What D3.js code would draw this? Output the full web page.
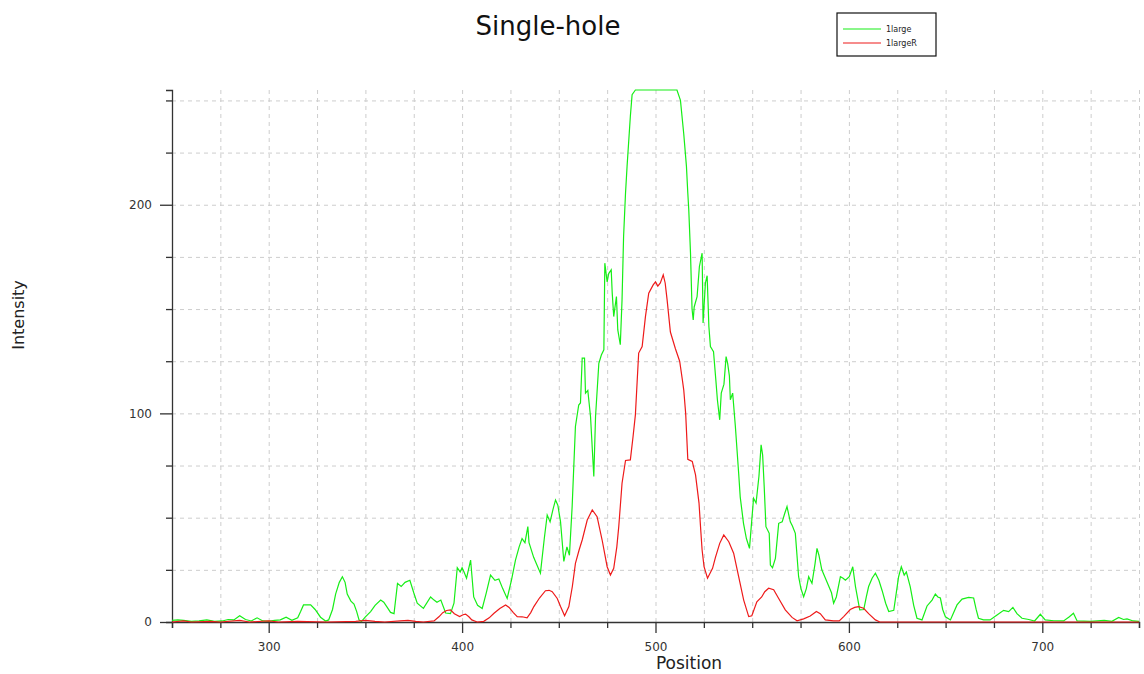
<!doctype html>
<html lang="en">
<head>
    <meta charset="UTF-8">
    <title>Single-hole</title>
    <style>
        body { margin: 0; background: #fff; }
        text { font-family: "DejaVu Sans", sans-serif; }
    </style>
</head>
<body>
<script src="https://cdn.jsdelivr.net/npm/d3@7"></script>
<script>

    // series: [position, intensity]
    const large = [
        [250,0.8],[253,1],[256,0.8],[260,0.3],[264,0.5],[268,1],[272,0.3],[276,0.5],[279,1.2],[282,1],
        [285,3],[288,1.2],[291,0.5],[294,2],[297,0.5],[300,0.3],[303,0.8],[306,1],[309,2.3],[312,0.8],
        [315,2],[316.5,5],[318,8.2],[321.7,8.2],[324,6],[326.8,2.3],[329.4,0.5],[331,1],[333,6],[334.6,13.4],
        [336.5,19],[338.1,21.7],[339.5,19],[340.6,13.4],[342.5,10],[344.1,8.6],[345.5,5],[346.7,1],[348,0.3],[350,2.5],
        [352.7,5],[355,8],[357.9,10.5],[359.5,9.5],[361.3,7],[363,4.6],[364.8,4],[366.6,18.5],[368.5,17],[370.5,19],
        [373,20],[375,14],[376.8,9],[380,6.5],[383.7,12],[385.5,10.5],[387,9.5],[389,10.5],[391.5,4.3],[394,4],
        [395.8,9],[397.5,26],[399,24],[400,26],[401,24],[402.3,21],[404.4,29.7],[406,12],[408,8],[410.4,6.5],
        [412.5,14],[414.7,22.5],[417,20],[419,20.6],[421,16],[423.3,11.3],[425.5,20],[427.6,29.7],[429.5,36],[431,40],
        [432.5,38],[434,45.7],[434.6,38],[437,31],[440.5,23.4],[442.5,40],[444,51.3],[445.5,48],[447,54],[448.3,58.5],
        [449.5,56],[450.9,48],[452.6,29],[454.2,36],[455.5,32],[456.9,55.3],[458.6,93.7],[460.3,104],[461.2,105],[462.1,126.5],
        [463.3,126.5],[463.8,109.7],[465,111],[466.4,98.5],[468.1,69.7],[469,98.5],[470.7,124],[472,128],[473.3,130.5],[473.8,172],
        [475,163],[475.8,167],[477.1,168.8],[477.6,158],[478.4,146.4],[479.8,156],[480.5,140],[481.8,132.9],[482.7,154.4],[483.5,184.8],
        [484.5,205.6],[485.3,218.4],[487,242.4],[487.9,252.8],[489.6,255],[511.1,255],[512.9,250],[514.6,234],[516,218.4],[516.7,205.6],
        [517.2,197.6],[518.1,176.8],[518.9,150],[519.5,144.8],[520,151],[521.5,156],[522.7,170.4],[524.1,176.8],[524.6,143.3],[525.8,162.4],
        [526.7,166],[527.6,141.6],[528.4,132],[530,129.6],[531.2,116],[532,106.5],[533.2,96.9],[534,109.7],[535.4,114],[536.5,127.2],
        [537.3,124],[538.2,118],[538.7,106.5],[539.9,109.7],[541.3,93.7],[543,71.3],[543.8,60],[545.5,47.3],[547,40],[548.6,35.3],
        [550.7,59.3],[552,57],[553.5,70],[554.6,84.9],[555.4,80],[556.2,65],[557.1,45.7],[558.8,42.5],[559.4,27.3],[560.5,26],
        [562,30.5],[563.7,47.3],[565.5,48],[566.8,52],[568,55.3],[569.7,48],[570.8,46],[572.3,42.5],[574,21.7],[575.2,16],
        [576.6,12.1],[578,16],[579.2,21.7],[580.9,18.5],[582.5,28],[583.5,35.3],[584.5,32],[586,25],[589,18.5],[591,14],
        [592.1,9],[593.5,12],[595.6,21.7],[597,21],[598.2,20],[600.2,21.7],[602,26.5],[603.4,17],[605.6,5.8],[607.7,6],
        [609,12],[610.2,17],[612,21],[613.7,23.4],[615.5,20],[617.2,15],[619,9],[620.6,5],[623.2,5.6],[624.5,14],
        [625.7,21.7],[627.1,26.5],[628.6,22.5],[629.7,24],[631.7,17],[633.5,8],[635.2,1.8],[637.8,1],[640.4,7.7],[643,10.5],
        [644.7,13.4],[646,12],[647.3,11.5],[648.5,6],[649.9,2.5],[652.5,1],[655.9,8.2],[658.5,11],[661.9,11.8],[664.5,11.5],
        [665.8,6],[667,1.8],[669.6,1],[673,1],[676.6,3.4],[680,5.6],[682.6,5],[684.8,7],[686.9,4],[689.5,1.8],
        [693,1.2],[696,0.5],[699,3.7],[701.5,1],[706,0.6],[711,0.5],[714,2.5],[716.1,4.2],[718,0.5],[725,0.3],
        [732,0.8],[736,0.3],[739.5,2.2],[742,1.2],[743.8,1.5],[747,0.5],[750,0.3]
    ]

    const largeR = [
        [250,0],[256,0.5],[260,0],[270,0.3],[275,0],[285,0.8],[290,0],[300,0.5],[305,0],[315,0.3],
        [330,0],[345,0.3],[350,0.8],[355,0.3],[360,0],[368,0.5],[372,0.8],[376,0.3],[380,0],[385.5,0.5],
        [388,2.5],[390,4.5],[392,5.5],[394,5.8],[396,4],[398.7,2.6],[400.5,3.5],[401.8,3.8],[403.5,2.5],[405,1],
        [407.8,0],[411.2,0.3],[414,2],[416.5,4.2],[419.5,6.5],[422.5,8.2],[424.3,7],[426.5,4.5],[428.5,2.6],[431,2.5],
        [433.6,2],[435.5,4.5],[437.1,7.4],[440,11.5],[443.1,15],[445,15.2],[446.6,14.5],[449.2,11.3],[450.9,7.4],[453,3],
        [455.2,7.4],[457,17],[458.6,28.1],[460.5,34.5],[462.1,39.3],[464.7,48.9],[467.3,53.7],[469.8,50.5],[472.4,39.3],[475,26.5],
        [476.7,22.5],[478.4,25.7],[480,36],[481,45.7],[482.7,66.5],[484.5,77.4],[487,77.7],[488.4,88.9],[489.6,99.3],[490.5,115],
        [491.3,128.9],[493.1,132],[494.8,146.4],[496.5,157.6],[498.8,161.6],[500,163],[501.2,161],[502.5,162.5],[504,166.4],[505,162.5],
        [506,154.4],[507.7,139],[510.3,131],[512.5,125],[513.9,116],[514.6,111.3],[515.6,100],[516.7,78],[519,77],[520.7,70.5],
        [522.5,57],[523.4,44],[524.1,34.5],[525.1,26.5],[526.9,21],[529.5,25.7],[531,31],[533.2,37.7],[535.3,41.7],[537.9,38.5],
        [540.4,33],[543,21.7],[545.6,10.5],[548.2,2.6],[549.8,3],[552.4,9.7],[554.9,12],[556.5,14.5],[558.5,16.2],[561.1,15.5],
        [563.7,11.3],[567.1,5.8],[570.6,2.2],[573.2,0.6],[576.6,1.5],[580,2.9],[583.2,5],[585.2,4],[587.8,1],[592,0.5],
        [595,0.5],[597.3,2.6],[600.7,6],[603,7],[605,7.4],[607.6,6.6],[610.2,4],[613.7,1],[616,0],[750,0]
    ]

    const seriesNames = ['1large', '1largeR']
    const seriesColors = ['#16ee16', '#ee1a1a']
    const xTicks = d3.range(250, 751, 25)
    const yTicks = d3.range(0, 251, 25)

    const margin = {top: 90, right: 5, bottom: 52, left: 172}
    const width = 1144 - margin.left - margin.right
    const height = 674 - margin.top - margin.bottom

    const root = d3.select('body').append('svg')
        .attr('width', 1144)
        .attr('height', 674)

    const svg = root.append('g')
        .attr('transform', `translate(${margin.left}, ${margin.top})`)

    const x = d3.scaleLinear().domain([250, 750]).range([0, width])
    const y = d3.scaleLinear().domain([0, 255]).range([height, 0])

    // dashed grid
    svg.append('g')
        .attr('transform', `translate(0, ${height})`)
        .call(d3.axisBottom(x).tickValues(xTicks.slice(1)).tickSize(-height).tickFormat(''))
        .call(g => g.select('.domain').remove())
        .selectAll('line')
        .attr('stroke', '#cdcdcd')
        .attr('stroke-dasharray', '4,4')

    svg.append('g')
        .call(d3.axisLeft(y).tickValues(yTicks.slice(1)).tickSize(-width).tickFormat(''))
        .call(g => g.select('.domain').remove())
        .selectAll('line')
        .attr('stroke', '#cdcdcd')
        .attr('stroke-dasharray', '4,4')

    // axes
    const xAxis = svg.append('g')
        .attr('transform', `translate(0, ${height})`)
        .call(d3.axisBottom(x).tickValues(xTicks)
            .tickSize(6)
            .tickFormat(d => d % 100 === 0 ? d : ''))
    xAxis.selectAll('.tick line')
        .attr('y2', d => d % 100 === 0 ? 11 : 6)
    xAxis.selectAll('.tick text')
        .attr('y', 20)

    const yAxis = svg.append('g')
        .call(d3.axisLeft(y).tickValues(yTicks)
            .tickSize(6)
            .tickFormat(d => d % 100 === 0 ? d : ''))
    yAxis.selectAll('.tick line')
        .attr('x2', d => d % 100 === 0 ? -12 : -6)
    yAxis.selectAll('.tick text')
        .attr('x', -20)

    svg.selectAll('.domain').attr('stroke', '#333').attr('stroke-width', 1.3)
    svg.selectAll('.tick line').filter(function() { return this.getAttribute('stroke-dasharray') === null })
        .attr('stroke', '#333').attr('stroke-width', 1.3)
    svg.selectAll('.tick text')
        .attr('font-family', '"DejaVu Sans", sans-serif')
        .attr('font-size', 12)
        .attr('fill', '#333')

    // profiles
    const line = d3.line()
        .x(d => x(d[0]))
        .y(d => y(d[1]))

    ;[large, largeR].forEach((data, i) => {
        svg.append('path')
            .datum(data)
            .attr('fill', 'none')
            .attr('stroke', seriesColors[i])
            .attr('stroke-width', 1.2)
            .attr('d', line)
    })

    // titles
    root.append('text')
        .attr('x', 548)
        .attr('y', 35)
        .attr('text-anchor', 'middle')
        .attr('font-size', 26)
        .attr('fill', '#111')
        .text('Single-hole')

    root.append('text')
        .attr('x', 689)
        .attr('y', 669)
        .attr('text-anchor', 'middle')
        .attr('font-size', 17)
        .attr('fill', '#222')
        .text('Position')

    root.append('text')
        .attr('transform', 'translate(24, 315) rotate(-90)')
        .attr('text-anchor', 'middle')
        .attr('font-size', 16)
        .attr('fill', '#222')
        .text('Intensity')

    // legend
    const legend = root.append('g')
        .attr('transform', 'translate(837, 13)')

    legend.append('rect')
        .attr('width', 99)
        .attr('height', 43)
        .attr('fill', '#fff')
        .attr('stroke', '#111')
        .attr('stroke-width', 1.2)

    seriesNames.forEach((name, i) => {
        legend.append('line')
            .attr('x1', 6).attr('x2', 44)
            .attr('y1', 16 + i * 14).attr('y2', 16 + i * 14)
            .attr('stroke', seriesColors[i])
            .attr('stroke-width', 1.2)
        legend.append('text')
            .attr('x', 49)
            .attr('y', 19 + i * 14)
            .attr('font-size', 8)
            .attr('fill', '#222')
            .text(name)
    })

</script>
</body>
</html>
